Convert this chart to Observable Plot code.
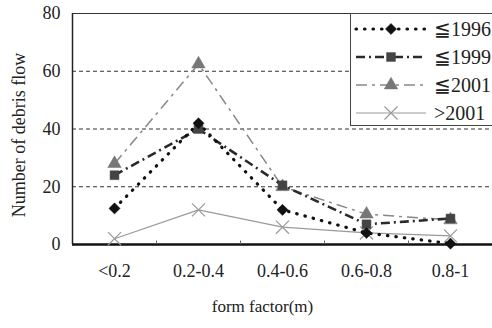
<!DOCTYPE html>
<html><head><meta charset="utf-8">
<script src="https://cdn.jsdelivr.net/npm/d3@7"></script>
<script src="https://cdn.jsdelivr.net/npm/@observablehq/plot@0.6"></script>
<style>
body{margin:0;background:#fff;}
#wrap{position:relative;width:492px;height:328px;font-family:"Liberation Serif","DejaVu Serif",serif;}
#legend{position:absolute;left:0;top:0;}
</style></head>
<body><div id="wrap"></div>
<script>
const categories = ["<0.2","0.2-0.4","0.4-0.6","0.6-0.8","0.8-1"];
const seriesNames = ["≦1996","≦1999","≦2001",">2001"];
const v1996 = [12.5, 42, 12, 4, 0.3];
const v1999 = [24, 40, 20.5, 7, 9];
const v2001 = [28, 62.5, 20, 10.5, 8.5];
const v2001p = [2, 12, 6, 4, 3];
const yTicks = [0, 20, 40, 60, 80];
const gridTicks = [20, 40, 60];

const styles = [
  {stroke:"#111", width:3.2, dash:"0.5,8", symbol:"diamond2", fill:"#111", r:5, cap:"round"},
  {stroke:"#2a2a2a", width:2.6, dash:"9,4,2,4", symbol:"square", fill:"#444", r:5, cap:"butt"},
  {stroke:"#888", width:1.5, dash:"11,5,3,5", symbol:"triangle", fill:"#777", r:5, cap:"butt"},
  {stroke:"#9a9a9a", width:1.2, dash:null, symbol:"times", fill:"none", r:6, cap:"butt"}
];
const allVals = [v1996, v1999, v2001, v2001p];
const data = [];
allVals.forEach((vals, s) => vals.forEach((v, i) => data.push({series: seriesNames[s], i, v})));
const bounds = categories.slice(0, -1).map((c, i) => i + 0.5);

const marks = [
  Plot.ruleY(gridTicks, {stroke:"#333", strokeWidth:1, strokeDasharray:"4,3"}),
  Plot.frame({stroke:"#333", strokeWidth:1}),
  Plot.ruleY([0], {stroke:"#111", strokeWidth:2.5}),
  Plot.ruleX([-0.5], {stroke:"#222", strokeWidth:1.5}),
  Plot.ruleX(bounds, {x: d => d, y1: 0, y2: 1.2, stroke:"#666"}),
  Plot.axisY({ticks: yTicks, tickSize: 0, tickPadding: 12, fontSize: 18, label: null}),
  Plot.axisX({ticks: categories.map((c, i) => i), tickFormat: i => categories[i], tickSize: 0, tickPadding: 20, fontSize: 18, label: null}),
  Plot.text(["Number of debris flow"], {frameAnchor:"left", textAnchor:"middle", rotate:-90, dx:-53, dy:6, fontSize:18, fill:"#222"}),
  Plot.text(["form factor(m)"], {frameAnchor:"bottom", dx:-20, dy:67, fontSize:17, fill:"#222"})
];
for (let s = 3; s >= 0; s--) {
  const st = styles[s];
  const d = data.filter(r => r.series === seriesNames[s]);
  marks.push(Plot.line(d, {x:"i", y:"v", stroke: st.stroke, strokeWidth: st.width, strokeDasharray: st.dash, strokeLinecap: st.cap}));
  marks.push(Plot.dot(d, {x:"i", y:"v", symbol: st.symbol, r: st.r,
    fill: st.fill === "none" ? "none" : st.fill,
    stroke: st.fill === "none" ? st.stroke : st.fill, strokeWidth: st.fill === "none" ? 1.2 : 0.5}));
}
const chart = Plot.plot({
  width: 492, height: 328,
  marginLeft: 72, marginRight: 0, marginTop: 13, marginBottom: 84,
  style: {fontFamily: '"Liberation Serif","DejaVu Serif",serif', color:"#222", background:"#fff"},
  x: {type:"linear", domain:[-0.5, 4.5], axis:null},
  y: {type:"linear", domain:[0, 80], axis:null},
  marks
});
const wrap = document.getElementById("wrap");
wrap.appendChild(chart);

// legend overlay
const lg = d3.select(wrap).append("svg").attr("id","legend").attr("width",492).attr("height",328);
lg.append("rect").attr("x",350.5).attr("y",13.5).attr("width",142).attr("height",112)
  .attr("fill","#fff").attr("stroke","#444").attr("stroke-width",1);
const symMap = {diamond2:d3.symbolDiamond2, square:d3.symbolSquare, triangle:d3.symbolTriangle, times:d3.symbolTimes};
seriesNames.forEach((name, s) => {
  const st = styles[s];
  const y = 29 + s * 28;
  lg.append("line").attr("x1",356).attr("x2",426).attr("y1",y).attr("y2",y)
    .attr("stroke",st.stroke).attr("stroke-width",st.width).attr("stroke-dasharray",st.dash)
    .attr("stroke-linecap",st.cap);
  const area = Math.PI * st.r * st.r;
  lg.append("path").attr("transform",`translate(391,${y})`).attr("d", d3.symbol(symMap[st.symbol], area)())
    .attr("fill", st.fill === "none" ? "none" : st.fill)
    .attr("stroke", st.fill === "none" ? st.stroke : st.fill).attr("stroke-width", st.fill === "none" ? 1.2 : 0.5);
  lg.append("text").attr("x",434).attr("y",y).attr("dy","0.35em").attr("font-size",20)
    .attr("font-family",'"Liberation Serif","DejaVu Serif",serif').attr("fill","#222").text(name);
});
</script></body></html>
